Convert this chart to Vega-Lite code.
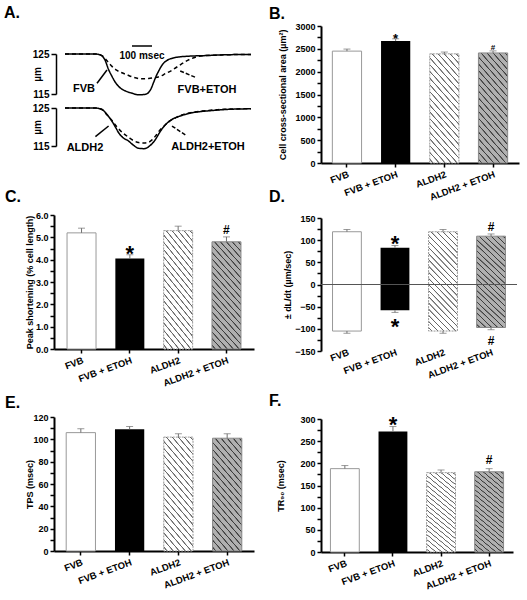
{
"$schema":"https://vega.github.io/schema/vega-lite/v6.json",
"padding":{"left":4,"top":5,"right":5,"bottom":5},
"config":{
 "font":"Liberation Sans",
 "view":{"stroke":null},
 "axis":{"labelFont":"Liberation Sans","titleFont":"Liberation Sans","labelFontWeight":"bold","titleFontWeight":"bold","labelFontSize":9,"titleFontSize":9,"labelColor":"#000","titleColor":"#000","domainColor":"#000","tickColor":"#000","domainWidth":2,"tickWidth":1.5,"tickSize":4,"labelPadding":2,"grid":false,"labelOverlap":false,"labelBound":false,"titleBaseline":"middle","titleAlign":"center"},
 "title":{"font":"Liberation Sans","fontSize":16,"fontWeight":"bold","anchor":"start","frame":"group","baseline":"alphabetic","color":"#000"},
 "style":{
  "hatchW":{"stroke":"#999","strokeWidth":1,"strokeDash":[2,1],"color":{"gradient":"linear","x1":0,"y1":1,"x2":0.358,"y2":-0.193,"stops":[
{"offset":0.020,"color":"#fff"},{"offset":0.024,"color":"#666"},{"offset":0.030,"color":"#666"},{"offset":0.034,"color":"#fff"},
{"offset":0.068,"color":"#fff"},{"offset":0.072,"color":"#666"},{"offset":0.078,"color":"#666"},{"offset":0.082,"color":"#fff"},
{"offset":0.115,"color":"#fff"},{"offset":0.119,"color":"#666"},{"offset":0.125,"color":"#666"},{"offset":0.129,"color":"#fff"},
{"offset":0.163,"color":"#fff"},{"offset":0.167,"color":"#666"},{"offset":0.173,"color":"#666"},{"offset":0.177,"color":"#fff"},
{"offset":0.210,"color":"#fff"},{"offset":0.214,"color":"#666"},{"offset":0.220,"color":"#666"},{"offset":0.224,"color":"#fff"},
{"offset":0.258,"color":"#fff"},{"offset":0.262,"color":"#666"},{"offset":0.268,"color":"#666"},{"offset":0.272,"color":"#fff"},
{"offset":0.306,"color":"#fff"},{"offset":0.310,"color":"#666"},{"offset":0.316,"color":"#666"},{"offset":0.320,"color":"#fff"},
{"offset":0.353,"color":"#fff"},{"offset":0.357,"color":"#666"},{"offset":0.363,"color":"#666"},{"offset":0.367,"color":"#fff"},
{"offset":0.401,"color":"#fff"},{"offset":0.405,"color":"#666"},{"offset":0.411,"color":"#666"},{"offset":0.415,"color":"#fff"},
{"offset":0.448,"color":"#fff"},{"offset":0.452,"color":"#666"},{"offset":0.458,"color":"#666"},{"offset":0.462,"color":"#fff"},
{"offset":0.496,"color":"#fff"},{"offset":0.500,"color":"#666"},{"offset":0.506,"color":"#666"},{"offset":0.510,"color":"#fff"},
{"offset":0.544,"color":"#fff"},{"offset":0.548,"color":"#666"},{"offset":0.554,"color":"#666"},{"offset":0.558,"color":"#fff"},
{"offset":0.591,"color":"#fff"},{"offset":0.595,"color":"#666"},{"offset":0.601,"color":"#666"},{"offset":0.605,"color":"#fff"},
{"offset":0.639,"color":"#fff"},{"offset":0.643,"color":"#666"},{"offset":0.649,"color":"#666"},{"offset":0.653,"color":"#fff"},
{"offset":0.686,"color":"#fff"},{"offset":0.690,"color":"#666"},{"offset":0.696,"color":"#666"},{"offset":0.700,"color":"#fff"},
{"offset":0.734,"color":"#fff"},{"offset":0.738,"color":"#666"},{"offset":0.744,"color":"#666"},{"offset":0.748,"color":"#fff"},
{"offset":0.782,"color":"#fff"},{"offset":0.786,"color":"#666"},{"offset":0.792,"color":"#666"},{"offset":0.796,"color":"#fff"},
{"offset":0.829,"color":"#fff"},{"offset":0.833,"color":"#666"},{"offset":0.839,"color":"#666"},{"offset":0.843,"color":"#fff"},
{"offset":0.877,"color":"#fff"},{"offset":0.881,"color":"#666"},{"offset":0.887,"color":"#666"},{"offset":0.891,"color":"#fff"},
{"offset":0.924,"color":"#fff"},{"offset":0.928,"color":"#666"},{"offset":0.934,"color":"#666"},{"offset":0.938,"color":"#fff"},
{"offset":0.972,"color":"#fff"},{"offset":0.976,"color":"#666"},{"offset":0.982,"color":"#666"},{"offset":0.986,"color":"#fff"}]}},
  "hatchG":{"stroke":"#888","strokeWidth":1,"color":{"gradient":"linear","x1":0,"y1":1,"x2":0.358,"y2":-0.193,"stops":[
{"offset":0.020,"color":"#b0b0b0"},{"offset":0.024,"color":"#3c3c3c"},{"offset":0.030,"color":"#3c3c3c"},{"offset":0.034,"color":"#b0b0b0"},
{"offset":0.068,"color":"#b0b0b0"},{"offset":0.072,"color":"#3c3c3c"},{"offset":0.078,"color":"#3c3c3c"},{"offset":0.082,"color":"#b0b0b0"},
{"offset":0.115,"color":"#b0b0b0"},{"offset":0.119,"color":"#3c3c3c"},{"offset":0.125,"color":"#3c3c3c"},{"offset":0.129,"color":"#b0b0b0"},
{"offset":0.163,"color":"#b0b0b0"},{"offset":0.167,"color":"#3c3c3c"},{"offset":0.173,"color":"#3c3c3c"},{"offset":0.177,"color":"#b0b0b0"},
{"offset":0.210,"color":"#b0b0b0"},{"offset":0.214,"color":"#3c3c3c"},{"offset":0.220,"color":"#3c3c3c"},{"offset":0.224,"color":"#b0b0b0"},
{"offset":0.258,"color":"#b0b0b0"},{"offset":0.262,"color":"#3c3c3c"},{"offset":0.268,"color":"#3c3c3c"},{"offset":0.272,"color":"#b0b0b0"},
{"offset":0.306,"color":"#b0b0b0"},{"offset":0.310,"color":"#3c3c3c"},{"offset":0.316,"color":"#3c3c3c"},{"offset":0.320,"color":"#b0b0b0"},
{"offset":0.353,"color":"#b0b0b0"},{"offset":0.357,"color":"#3c3c3c"},{"offset":0.363,"color":"#3c3c3c"},{"offset":0.367,"color":"#b0b0b0"},
{"offset":0.401,"color":"#b0b0b0"},{"offset":0.405,"color":"#3c3c3c"},{"offset":0.411,"color":"#3c3c3c"},{"offset":0.415,"color":"#b0b0b0"},
{"offset":0.448,"color":"#b0b0b0"},{"offset":0.452,"color":"#3c3c3c"},{"offset":0.458,"color":"#3c3c3c"},{"offset":0.462,"color":"#b0b0b0"},
{"offset":0.496,"color":"#b0b0b0"},{"offset":0.500,"color":"#3c3c3c"},{"offset":0.506,"color":"#3c3c3c"},{"offset":0.510,"color":"#b0b0b0"},
{"offset":0.544,"color":"#b0b0b0"},{"offset":0.548,"color":"#3c3c3c"},{"offset":0.554,"color":"#3c3c3c"},{"offset":0.558,"color":"#b0b0b0"},
{"offset":0.591,"color":"#b0b0b0"},{"offset":0.595,"color":"#3c3c3c"},{"offset":0.601,"color":"#3c3c3c"},{"offset":0.605,"color":"#b0b0b0"},
{"offset":0.639,"color":"#b0b0b0"},{"offset":0.643,"color":"#3c3c3c"},{"offset":0.649,"color":"#3c3c3c"},{"offset":0.653,"color":"#b0b0b0"},
{"offset":0.686,"color":"#b0b0b0"},{"offset":0.690,"color":"#3c3c3c"},{"offset":0.696,"color":"#3c3c3c"},{"offset":0.700,"color":"#b0b0b0"},
{"offset":0.734,"color":"#b0b0b0"},{"offset":0.738,"color":"#3c3c3c"},{"offset":0.744,"color":"#3c3c3c"},{"offset":0.748,"color":"#b0b0b0"},
{"offset":0.782,"color":"#b0b0b0"},{"offset":0.786,"color":"#3c3c3c"},{"offset":0.792,"color":"#3c3c3c"},{"offset":0.796,"color":"#b0b0b0"},
{"offset":0.829,"color":"#b0b0b0"},{"offset":0.833,"color":"#3c3c3c"},{"offset":0.839,"color":"#3c3c3c"},{"offset":0.843,"color":"#b0b0b0"},
{"offset":0.877,"color":"#b0b0b0"},{"offset":0.881,"color":"#3c3c3c"},{"offset":0.887,"color":"#3c3c3c"},{"offset":0.891,"color":"#b0b0b0"},
{"offset":0.924,"color":"#b0b0b0"},{"offset":0.928,"color":"#3c3c3c"},{"offset":0.934,"color":"#3c3c3c"},{"offset":0.938,"color":"#b0b0b0"},
{"offset":0.972,"color":"#b0b0b0"},{"offset":0.976,"color":"#3c3c3c"},{"offset":0.982,"color":"#3c3c3c"},{"offset":0.986,"color":"#b0b0b0"}]}}
 }
},
"columns":2,
"spacing":{"row":52,"column":67},
"bounds":"flush",
"concat":[
{
 "width":200,"height":137,
 "title":{"text":"A.","dx":-50,"offset":5},
 "data":{"values":[
{"trace":"FVB","t":0,"um":125},{"trace":"FVB","t":150,"um":125},{"trace":"FVB","t":175,"um":124.8},{"trace":"FVB","t":200,"um":123.5},{"trace":"FVB","t":218,"um":121.1},{"trace":"FVB","t":235,"um":119.4},{"trace":"FVB","t":252,"um":117.9},{"trace":"FVB","t":270,"um":116.8},{"trace":"FVB","t":285,"um":116.2},{"trace":"FVB","t":310,"um":115.6},{"trace":"FVB","t":335,"um":115.2},{"trace":"FVB","t":368,"um":114.8},{"trace":"FVB","t":400,"um":114.9},{"trace":"FVB","t":418,"um":115.4},{"trace":"FVB","t":430,"um":116.3},{"trace":"FVB","t":443,"um":117.9},{"trace":"FVB","t":455,"um":119.4},{"trace":"FVB","t":468,"um":120.7},{"trace":"FVB","t":480,"um":121.8},{"trace":"FVB","t":493,"um":122.7},{"trace":"FVB","t":510,"um":123.4},{"trace":"FVB","t":527,"um":123.8},{"trace":"FVB","t":560,"um":124.2},{"trace":"FVB","t":600,"um":124.4},{"trace":"FVB","t":700,"um":124.6},{"trace":"FVB","t":800,"um":124.8},{"trace":"FVB","t":930,"um":124.9},
{"trace":"FVB+ETOH","t":0,"um":125},{"trace":"FVB+ETOH","t":150,"um":125},{"trace":"FVB+ETOH","t":185,"um":124.6},{"trace":"FVB+ETOH","t":210,"um":123.3},{"trace":"FVB+ETOH","t":235,"um":121.9},{"trace":"FVB+ETOH","t":260,"um":120.9},{"trace":"FVB+ETOH","t":285,"um":120.3},{"trace":"FVB+ETOH","t":310,"um":119.8},{"trace":"FVB+ETOH","t":335,"um":119.3},{"trace":"FVB+ETOH","t":385,"um":118.8},{"trace":"FVB+ETOH","t":420,"um":118.9},{"trace":"FVB+ETOH","t":452,"um":119.1},{"trace":"FVB+ETOH","t":480,"um":119.5},{"trace":"FVB+ETOH","t":502,"um":120.1},{"trace":"FVB+ETOH","t":530,"um":120.8},{"trace":"FVB+ETOH","t":552,"um":121.5},{"trace":"FVB+ETOH","t":580,"um":122.4},{"trace":"FVB+ETOH","t":602,"um":123.1},{"trace":"FVB+ETOH","t":630,"um":123.8},{"trace":"FVB+ETOH","t":652,"um":124.2},{"trace":"FVB+ETOH","t":700,"um":124.6},{"trace":"FVB+ETOH","t":800,"um":124.8},{"trace":"FVB+ETOH","t":930,"um":124.9},
{"trace":"ALDH2","t":0,"um":125},{"trace":"ALDH2","t":150,"um":125},{"trace":"ALDH2","t":185,"um":124.6},{"trace":"ALDH2","t":210,"um":123.3},{"trace":"ALDH2","t":235,"um":121.5},{"trace":"ALDH2","t":252,"um":120},{"trace":"ALDH2","t":268,"um":118.5},{"trace":"ALDH2","t":290,"um":117.2},{"trace":"ALDH2","t":318,"um":116.3},{"trace":"ALDH2","t":340,"um":115.3},{"trace":"ALDH2","t":368,"um":114.4},{"trace":"ALDH2","t":395,"um":114.3},{"trace":"ALDH2","t":418,"um":114.8},{"trace":"ALDH2","t":435,"um":115.6},{"trace":"ALDH2","t":452,"um":116.7},{"trace":"ALDH2","t":468,"um":118.1},{"trace":"ALDH2","t":485,"um":119.5},{"trace":"ALDH2","t":510,"um":121},{"trace":"ALDH2","t":535,"um":122},{"trace":"ALDH2","t":570,"um":122.8},{"trace":"ALDH2","t":602,"um":123.3},{"trace":"ALDH2","t":640,"um":123.8},{"trace":"ALDH2","t":685,"um":124.1},{"trace":"ALDH2","t":750,"um":124.4},{"trace":"ALDH2","t":802,"um":124.6},{"trace":"ALDH2","t":930,"um":124.8},
{"trace":"ALDH2+ETOH","t":0,"um":125},{"trace":"ALDH2+ETOH","t":150,"um":125},{"trace":"ALDH2+ETOH","t":185,"um":124.6},{"trace":"ALDH2+ETOH","t":210,"um":123.2},{"trace":"ALDH2+ETOH","t":235,"um":121.7},{"trace":"ALDH2+ETOH","t":260,"um":120},{"trace":"ALDH2+ETOH","t":290,"um":118.4},{"trace":"ALDH2+ETOH","t":318,"um":117.3},{"trace":"ALDH2+ETOH","t":340,"um":116.5},{"trace":"ALDH2+ETOH","t":368,"um":115.9},{"trace":"ALDH2+ETOH","t":395,"um":115.8},{"trace":"ALDH2+ETOH","t":418,"um":116},{"trace":"ALDH2+ETOH","t":435,"um":116.6},{"trace":"ALDH2+ETOH","t":452,"um":117.6},{"trace":"ALDH2+ETOH","t":475,"um":119.2},{"trace":"ALDH2+ETOH","t":502,"um":120.6},{"trace":"ALDH2+ETOH","t":530,"um":121.8},{"trace":"ALDH2+ETOH","t":552,"um":122.4},{"trace":"ALDH2+ETOH","t":580,"um":123.1},{"trace":"ALDH2+ETOH","t":602,"um":123.5},{"trace":"ALDH2+ETOH","t":640,"um":123.9},{"trace":"ALDH2+ETOH","t":685,"um":124.2},{"trace":"ALDH2+ETOH","t":750,"um":124.5},{"trace":"ALDH2+ETOH","t":802,"um":124.7},{"trace":"ALDH2+ETOH","t":930,"um":124.8}
 ]},
 "layer":[
   {"transform":[{"filter":"datum.trace==='FVB' || datum.trace==='FVB+ETOH'"}],
    "mark":{"type":"line","color":"#000","strokeWidth":1.5,"interpolate":"monotone"},
    "encoding":{"x":{"field":"t","type":"quantitative","scale":{"domain":[-55,945],"nice":false,"zero":false},"axis":null},
     "y":{"field":"um","type":"quantitative","scale":{"domain":[115,125],"range":[68,28],"nice":false,"zero":false},"axis":{"orient":"left","values":[115,125],"tickCount":20,"title":"µm","titleX":-19,"offset":-2,"tickSize":5,"labelFontSize":10,"titleFontSize":10,"domainWidth":1.5,"tickWidth":1.5,"format":"d","labelOverlap":false}},
     "strokeDash":{"field":"trace","type":"nominal","scale":{"domain":["FVB","FVB+ETOH","ALDH2","ALDH2+ETOH"],"range":[[1,0],[4,3],[1,0],[4,3]]},"legend":null}}},
   {"transform":[{"filter":"datum.trace==='ALDH2' || datum.trace==='ALDH2+ETOH'"}],
    "mark":{"type":"line","color":"#000","strokeWidth":1.5,"interpolate":"monotone"},
    "encoding":{"x":{"field":"t","type":"quantitative","scale":{"domain":[-55,945],"nice":false,"zero":false},"axis":null},
     "y":{"field":"um","type":"quantitative","scale":{"domain":[115,125],"range":[120,82],"nice":false,"zero":false},"axis":{"orient":"left","values":[115,125],"tickCount":20,"title":"µm","titleX":-19,"offset":-2,"tickSize":5,"labelFontSize":10,"titleFontSize":10,"domainWidth":1.5,"tickWidth":1.5,"format":"d","labelOverlap":false}},
     "strokeDash":{"field":"trace","type":"nominal","scale":{"domain":["FVB","FVB+ETOH","ALDH2","ALDH2+ETOH"],"range":[[1,0],[4,3],[1,0],[4,3]]},"legend":null}}},
   {"data":{"values":[{}]},"mark":{"type":"rule","color":"#000","strokeWidth":1.5},"encoding":{"x":{"datum":335},"x2":{"datum":435},"y":{"datum":127,"scale":{"domain":[115,125],"range":[68,28],"nice":false,"zero":false},"axis":null}}},
   {"data":{"values":[{}]},"mark":{"type":"text","text":"100 msec","fontSize":10,"fontWeight":"bold","baseline":"middle"},"encoding":{"x":{"datum":385},"y":{"datum":124.5,"scale":{"domain":[115,125],"range":[68,28],"nice":false,"zero":false},"axis":null}}},
   {"data":{"values":[{}]},"mark":{"type":"text","text":"FVB","fontSize":11,"fontWeight":"bold","baseline":"middle"},"encoding":{"x":{"datum":95},"y":{"datum":116.25,"scale":{"domain":[115,125],"range":[68,28],"nice":false,"zero":false},"axis":null}}},
   {"data":{"values":[{}]},"mark":{"type":"rule","color":"#000","strokeWidth":1.5},"encoding":{"x":{"datum":160},"x2":{"datum":210},"y":{"datum":117.7,"scale":{"domain":[115,125],"range":[68,28],"nice":false,"zero":false},"axis":null},"y2":{"datum":121}}},
   {"data":{"values":[{}]},"mark":{"type":"text","text":"FVB+ETOH","fontSize":11,"fontWeight":"bold","baseline":"middle"},"encoding":{"x":{"datum":710},"y":{"datum":116,"scale":{"domain":[115,125],"range":[68,28],"nice":false,"zero":false},"axis":null}}},
   {"data":{"values":[{}]},"mark":{"type":"rule","color":"#000","strokeWidth":1.5,"strokeDash":[4,2]},"encoding":{"x":{"datum":576},"x2":{"datum":651},"y":{"datum":120.75,"scale":{"domain":[115,125],"range":[68,28],"nice":false,"zero":false},"axis":null},"y2":{"datum":119.2}}},
   {"data":{"values":[{}]},"mark":{"type":"text","text":"ALDH2","fontSize":11,"fontWeight":"bold","baseline":"middle"},"encoding":{"x":{"datum":100},"y":{"datum":114.47,"scale":{"domain":[115,125],"range":[120,82],"nice":false,"zero":false},"axis":null}}},
   {"data":{"values":[{}]},"mark":{"type":"rule","color":"#000","strokeWidth":1.5},"encoding":{"x":{"datum":152},"x2":{"datum":218},"y":{"datum":117.45,"scale":{"domain":[115,125],"range":[120,82],"nice":false,"zero":false},"axis":null},"y2":{"datum":120.26}}},
   {"data":{"values":[{}]},"mark":{"type":"text","text":"ALDH2+ETOH","fontSize":11,"fontWeight":"bold","baseline":"middle"},"encoding":{"x":{"datum":715},"y":{"datum":114.66,"scale":{"domain":[115,125],"range":[120,82],"nice":false,"zero":false},"axis":null}}},
   {"data":{"values":[{}]},"mark":{"type":"rule","color":"#000","strokeWidth":1.5,"strokeDash":[4,2]},"encoding":{"x":{"datum":535},"x2":{"datum":602},"y":{"datum":120.26,"scale":{"domain":[115,125],"range":[120,82],"nice":false,"zero":false},"axis":null},"y2":{"datum":117.9}}}
 ],
 "resolve":{"scale":{"y":"independent"}}
},
{
 "width":198,"height":137,
 "title":{"text":"B.","dx":-52,"offset":0.5},
 "data":{"values":[{"g":"FVB","v":2450,"hi":2495,"sig":""},{"g":"FVB + ETOH","v":2670,"hi":2720,"sig":"*"},{"g":"ALDH2","v":2390,"hi":2430,"sig":""},{"g":"ALDH2 + ETOH","v":2410,"hi":2455,"sig":"#"}]},
 "encoding":{"x":{"field":"g","type":"nominal","scale":{"domain":["FVB","FVB + ETOH","ALDH2","ALDH2 + ETOH"],"paddingInner":0.4,"paddingOuter":0.233},"axis":{"title":null,"labelAngle":-20,"labelAlign":"right","labelBaseline":"top","labelFontSize":9.5,"labelOverlap":false}}},
 "layer":[
  {"transform":[{"filter":"datum.g==='FVB'"}],"mark":{"type":"bar","fill":"#fff","stroke":"#999","strokeWidth":1},"encoding":{"y":{"field":"v","type":"quantitative","scale":{"domain":[0,3000],"nice":false},"axis":{"title":"Cell cross-sectional area (µm²)","titleX":-39,"values":[0,250,500,750,1000,1250,1500,1750,2000,2250,2500,2750,3000],"tickCount":50,"labelExpr":"datum.value % 500 === 0 ? datum.label : ''","format":"d","labelOverlap":false}}}},
  {"transform":[{"filter":"datum.g==='FVB + ETOH'"}],"mark":{"type":"bar","fill":"#000"},"encoding":{"y":{"field":"v","type":"quantitative"}}},
  {"transform":[{"filter":"datum.g==='ALDH2'"}],"mark":{"type":"bar","style":"hatchW"},"encoding":{"y":{"field":"v","type":"quantitative"}}},
  {"transform":[{"filter":"datum.g==='ALDH2 + ETOH'"}],"mark":{"type":"bar","style":"hatchG"},"encoding":{"y":{"field":"v","type":"quantitative"}}},
  {"mark":{"type":"rule","color":"#707070","strokeWidth":1},"encoding":{"y":{"field":"v","type":"quantitative"},"y2":{"field":"hi"}}},
  {"mark":{"type":"tick","color":"#707070","size":7,"thickness":1},"encoding":{"y":{"field":"hi","type":"quantitative"}}},
  {"transform":[{"filter":"datum.sig==='*'"}],"mark":{"type":"text","fontSize":13,"fontWeight":"bold","baseline":"alphabetic","dy":4},"encoding":{"y":{"field":"hi","type":"quantitative"},"text":{"field":"sig"}}},
  {"transform":[{"filter":"datum.sig==='#'"}],"mark":{"type":"text","fontSize":8,"fontWeight":"bold","baseline":"alphabetic","dy":-1.3},"encoding":{"y":{"field":"hi","type":"quantitative"},"text":{"field":"sig"}}}
 ]
},
{
 "width":200,"height":134,
 "title":{"text":"C.","dx":-49,"offset":6.5},
 "data":{"values":[{"g":"FVB","v":5.2,"hi":5.41,"sig":""},{"g":"FVB + ETOH","v":4.05,"hi":4.22,"sig":"*"},{"g":"ALDH2","v":5.3,"hi":5.5,"sig":""},{"g":"ALDH2 + ETOH","v":4.8,"hi":5.02,"sig":"#"}]},
 "encoding":{"x":{"field":"g","type":"nominal","scale":{"domain":["FVB","FVB + ETOH","ALDH2","ALDH2 + ETOH"],"paddingInner":0.4,"paddingOuter":0.27},"axis":{"title":null,"labelAngle":-20,"labelAlign":"right","labelBaseline":"top","labelFontSize":9.5,"labelOverlap":false}}},
 "layer":[
  {"transform":[{"filter":"datum.g==='FVB'"}],"mark":{"type":"bar","fill":"#fff","stroke":"#999","strokeWidth":1},"encoding":{"y":{"field":"v","type":"quantitative","scale":{"domain":[0,6],"nice":false},"axis":{"title":"Peak shortening (% cell length)","titleX":-25,"values":[0,0.5,1,1.5,2,2.5,3,3.5,4,4.5,5,5.5,6],"tickCount":50,"labelExpr":"datum.value % 1 === 0 ? datum.label : ''","labelOverlap":false}}}},
  {"transform":[{"filter":"datum.g==='FVB + ETOH'"}],"mark":{"type":"bar","fill":"#000"},"encoding":{"y":{"field":"v","type":"quantitative"}}},
  {"transform":[{"filter":"datum.g==='ALDH2'"}],"mark":{"type":"bar","style":"hatchW"},"encoding":{"y":{"field":"v","type":"quantitative"}}},
  {"transform":[{"filter":"datum.g==='ALDH2 + ETOH'"}],"mark":{"type":"bar","style":"hatchG"},"encoding":{"y":{"field":"v","type":"quantitative"}}},
  {"mark":{"type":"rule","color":"#707070","strokeWidth":1},"encoding":{"y":{"field":"v","type":"quantitative"},"y2":{"field":"hi"}}},
  {"mark":{"type":"tick","color":"#707070","size":7,"thickness":1},"encoding":{"y":{"field":"hi","type":"quantitative"}}},
  {"transform":[{"filter":"datum.sig==='*'"}],"mark":{"type":"text","fontSize":22,"fontWeight":"bold","baseline":"alphabetic","dy":6},"encoding":{"y":{"field":"hi","type":"quantitative"},"text":{"field":"sig"}}},
  {"transform":[{"filter":"datum.sig==='#'"}],"mark":{"type":"text","fontSize":12,"fontWeight":"bold","baseline":"alphabetic","dy":-2.6},"encoding":{"y":{"field":"hi","type":"quantitative"},"text":{"field":"sig"}}}
 ]
},
{
 "width":196,"height":150,
 "title":{"text":"D.","dx":-52,"offset":9.5},
 "data":{"values":[{"g":"FVB","pos":119,"neg":-105,"hiP":124,"loN":-110,"sig":""},{"g":"FVB + ETOH","pos":83,"neg":-58,"hiP":88,"loN":-63,"sig":"*"},{"g":"ALDH2","pos":119,"neg":-105,"hiP":124,"loN":-110,"sig":""},{"g":"ALDH2 + ETOH","pos":109,"neg":-97,"hiP":114,"loN":-102,"sig":"#"}]},
 "layer":[
  {"encoding":{"x":{"field":"g","type":"nominal","scale":{"domain":["FVB","FVB + ETOH","ALDH2","ALDH2 + ETOH"],"paddingInner":0.4,"paddingOuter":0.24},"axis":{"title":null,"domain":false,"ticks":false,"tickSize":0,"labelPadding":-18,"labelAngle":-20,"labelAlign":"right","labelBaseline":"top","labelFontSize":9.5,"labelOverlap":false}}},
   "layer":[
    {"transform":[{"filter":"datum.g==='FVB'"}],"mark":{"type":"bar","fill":"#fff","stroke":"#999","strokeWidth":1},"encoding":{"y":{"field":"pos","type":"quantitative","scale":{"domain":[-150,150],"range":[136,3],"nice":false,"zero":false},"axis":{"title":"± dL/dt (µm/sec)","titleX":-34,"values":[-150,-125,-100,-75,-50,-25,0,25,50,75,100,125,150],"tickCount":50,"labelExpr":"datum.value % 50 === 0 ? datum.label : ''","format":"d","labelOverlap":false}},"y2":{"field":"neg"}}},
    {"transform":[{"filter":"datum.g==='FVB + ETOH'"}],"mark":{"type":"bar","fill":"#000"},"encoding":{"y":{"field":"pos","type":"quantitative"},"y2":{"field":"neg"}}},
    {"transform":[{"filter":"datum.g==='ALDH2'"}],"mark":{"type":"bar","style":"hatchW"},"encoding":{"y":{"field":"pos","type":"quantitative"},"y2":{"field":"neg"}}},
    {"transform":[{"filter":"datum.g==='ALDH2 + ETOH'"}],"mark":{"type":"bar","style":"hatchG"},"encoding":{"y":{"field":"pos","type":"quantitative"},"y2":{"field":"neg"}}},
    {"mark":{"type":"rule","color":"#707070","strokeWidth":1},"encoding":{"y":{"field":"pos","type":"quantitative"},"y2":{"field":"hiP"}}},
    {"mark":{"type":"rule","color":"#707070","strokeWidth":1},"encoding":{"y":{"field":"neg","type":"quantitative"},"y2":{"field":"loN"}}},
    {"mark":{"type":"tick","color":"#707070","size":7,"thickness":1},"encoding":{"y":{"field":"hiP","type":"quantitative"}}},
    {"mark":{"type":"tick","color":"#707070","size":7,"thickness":1},"encoding":{"y":{"field":"loN","type":"quantitative"}}},
    {"transform":[{"filter":"datum.sig==='*'"}],"mark":{"type":"text","fontSize":22,"fontWeight":"bold","baseline":"alphabetic","dy":5.3},"encoding":{"y":{"field":"hiP","type":"quantitative"},"text":{"field":"sig"}}},
    {"transform":[{"filter":"datum.sig==='*'"}],"mark":{"type":"text","fontSize":22,"fontWeight":"bold","baseline":"alphabetic","dy":21.4},"encoding":{"y":{"field":"loN","type":"quantitative"},"text":{"field":"sig"}}},
    {"transform":[{"filter":"datum.sig==='#'"}],"mark":{"type":"text","fontSize":12,"fontWeight":"bold","baseline":"alphabetic","dy":-2.7},"encoding":{"y":{"field":"hiP","type":"quantitative"},"text":{"field":"sig"}}},
    {"transform":[{"filter":"datum.sig==='#'"}],"mark":{"type":"text","fontSize":12,"fontWeight":"bold","baseline":"alphabetic","dy":15.6},"encoding":{"y":{"field":"loN","type":"quantitative"},"text":{"field":"sig"}}}
   ]},
  {"data":{"values":[{}]},"mark":{"type":"rule","color":"#555","strokeWidth":1},"encoding":{"y":{"datum":0}}}
 ]
},
{
 "width":200,"height":134,
 "title":{"text":"E.","dx":-49,"offset":2.5},
 "data":{"values":[{"g":"FVB","v":106,"hi":109.5},{"g":"FVB + ETOH","v":109,"hi":111.5},{"g":"ALDH2","v":102,"hi":105},{"g":"ALDH2 + ETOH","v":101,"hi":105}]},
 "encoding":{"x":{"field":"g","type":"nominal","scale":{"domain":["FVB","FVB + ETOH","ALDH2","ALDH2 + ETOH"],"paddingInner":0.4,"paddingOuter":0.25},"axis":{"title":null,"labelAngle":-20,"labelAlign":"right","labelBaseline":"top","labelFontSize":9.5,"labelOverlap":false}}},
 "layer":[
  {"transform":[{"filter":"datum.g==='FVB'"}],"mark":{"type":"bar","fill":"#fff","stroke":"#999","strokeWidth":1},"encoding":{"y":{"field":"v","type":"quantitative","scale":{"domain":[0,120],"nice":false},"axis":{"title":"TPS (msec)","titleX":-25,"values":[0,10,20,30,40,50,60,70,80,90,100,110,120],"tickCount":50,"labelExpr":"datum.value % 20 === 0 ? datum.label : ''","format":"d","labelOverlap":false}}}},
  {"transform":[{"filter":"datum.g==='FVB + ETOH'"}],"mark":{"type":"bar","fill":"#000"},"encoding":{"y":{"field":"v","type":"quantitative"}}},
  {"transform":[{"filter":"datum.g==='ALDH2'"}],"mark":{"type":"bar","style":"hatchW"},"encoding":{"y":{"field":"v","type":"quantitative"}}},
  {"transform":[{"filter":"datum.g==='ALDH2 + ETOH'"}],"mark":{"type":"bar","style":"hatchG"},"encoding":{"y":{"field":"v","type":"quantitative"}}},
  {"mark":{"type":"rule","color":"#707070","strokeWidth":1},"encoding":{"y":{"field":"v","type":"quantitative"},"y2":{"field":"hi"}}},
  {"mark":{"type":"tick","color":"#707070","size":7,"thickness":1},"encoding":{"y":{"field":"hi","type":"quantitative"}}}
 ]
},
{
 "width":192,"height":135,
 "title":{"text":"F.","dx":-52,"offset":4.5},
 "data":{"values":[{"g":"FVB","v":188,"hi":195,"sig":""},{"g":"FVB + ETOH","v":272,"hi":283,"sig":"*"},{"g":"ALDH2","v":179,"hi":185,"sig":""},{"g":"ALDH2 + ETOH","v":181,"hi":188,"sig":"#"}]},
 "encoding":{"x":{"field":"g","type":"nominal","scale":{"domain":["FVB","FVB + ETOH","ALDH2","ALDH2 + ETOH"],"paddingInner":0.4,"paddingOuter":0.196},"axis":{"title":null,"labelAngle":-20,"labelAlign":"right","labelBaseline":"top","labelFontSize":9.5,"labelOverlap":false}}},
 "layer":[
  {"transform":[{"filter":"datum.g==='FVB'"}],"mark":{"type":"bar","fill":"#fff","stroke":"#999","strokeWidth":1},"encoding":{"y":{"field":"v","type":"quantitative","scale":{"domain":[0,300],"range":[135,2],"nice":false},"axis":{"title":"TR₉₀ (msec)","titleX":-41,"values":[0,25,50,75,100,125,150,175,200,225,250,275,300],"tickCount":50,"labelExpr":"datum.value % 50 === 0 ? datum.label : ''","format":"d","labelOverlap":false}}}},
  {"transform":[{"filter":"datum.g==='FVB + ETOH'"}],"mark":{"type":"bar","fill":"#000"},"encoding":{"y":{"field":"v","type":"quantitative"}}},
  {"transform":[{"filter":"datum.g==='ALDH2'"}],"mark":{"type":"bar","style":"hatchW"},"encoding":{"y":{"field":"v","type":"quantitative"}}},
  {"transform":[{"filter":"datum.g==='ALDH2 + ETOH'"}],"mark":{"type":"bar","style":"hatchG"},"encoding":{"y":{"field":"v","type":"quantitative"}}},
  {"mark":{"type":"rule","color":"#707070","strokeWidth":1},"encoding":{"y":{"field":"v","type":"quantitative"},"y2":{"field":"hi"}}},
  {"mark":{"type":"tick","color":"#707070","size":7,"thickness":1},"encoding":{"y":{"field":"hi","type":"quantitative"}}},
  {"transform":[{"filter":"datum.sig==='*'"}],"mark":{"type":"text","fontSize":22,"fontWeight":"bold","baseline":"alphabetic","dy":5.3},"encoding":{"y":{"field":"hi","type":"quantitative"},"text":{"field":"sig"}}},
  {"transform":[{"filter":"datum.sig==='#'"}],"mark":{"type":"text","fontSize":12,"fontWeight":"bold","baseline":"alphabetic","dy":-5},"encoding":{"y":{"field":"hi","type":"quantitative"},"text":{"field":"sig"}}}
 ]
}
]
}
